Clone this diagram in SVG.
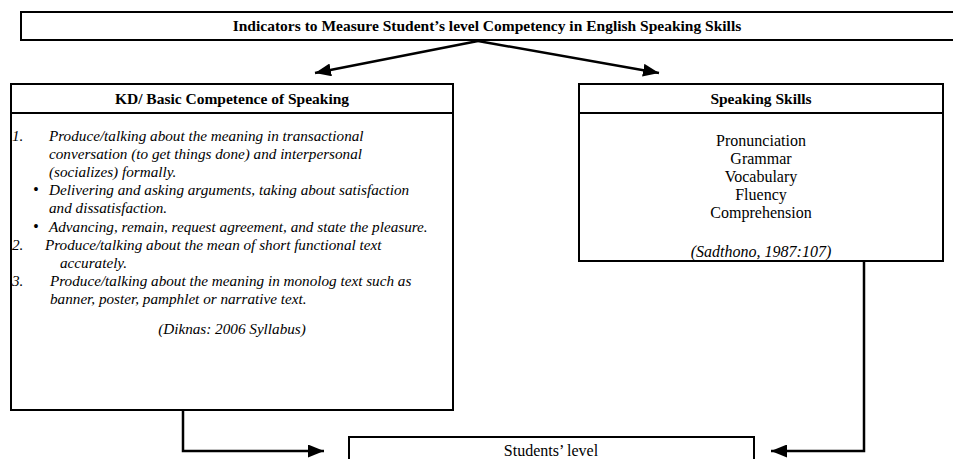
<svg xmlns="http://www.w3.org/2000/svg" width="953" height="459" viewBox="0 0 953 459">
<style>
  .box{fill:#fff;stroke:#000;stroke-width:2}
  .conn{fill:none;stroke:#000;stroke-width:2.5}
  text{font-family:"Liberation Serif","Times New Roman",serif;fill:#000;font-size:16px}
  .b{font-weight:bold;font-size:15.5px}
  .i{font-style:italic;font-size:15.2px}
  .c{text-anchor:middle}
</style>
<defs>
  <marker id="ah" markerUnits="userSpaceOnUse" markerWidth="17" markerHeight="13" refX="16" refY="6.5" orient="auto">
    <path d="M0,0 L16,6.5 L0,13 z" fill="#000"/>
  </marker>
</defs>
<rect width="953" height="459" fill="#fff"/>
<g id="connectors">
  <line class="conn" x1="478" y1="41" x2="315" y2="73" marker-end="url(#ah)"/>
  <line class="conn" x1="478" y1="41" x2="659" y2="73" marker-end="url(#ah)"/>
  <path class="conn" d="M183,411 V451 H324" marker-end="url(#ah)"/>
  <path class="conn" d="M864,262 V451 H771" marker-end="url(#ah)"/>
</g>
<g id="title">
  <rect class="box" x="21" y="12" width="940" height="28"/>
  <text class="b c" x="487" y="31">Indicators to Measure Student’s level Competency in English Speaking Skills</text>
</g>
<g id="kd">
  <rect class="box" x="11" y="84" width="442" height="326"/>
  <line x1="11" y1="113" x2="453" y2="113" stroke="#000" stroke-width="2"/>
  <text class="b c" x="232" y="104">KD/ Basic Competence of Speaking</text>
  <g class="i">
    <text class="i" x="12" y="141">1.</text>
    <text class="i" x="49" y="141">Produce/talking about the meaning in transactional</text>
    <text class="i" x="49" y="159.1">conversation (to get things done) and interpersonal</text>
    <text class="i" x="49" y="177.2">(socializes) formally.</text>
    <text x="33" y="195.3" font-size="16">•</text>
    <text class="i" x="49" y="195.3">Delivering and asking arguments, taking about satisfaction</text>
    <text class="i" x="49" y="213.4">and dissatisfaction.</text>
    <text x="33" y="231.5" font-size="16">•</text>
    <text class="i" x="49" y="231.5">Advancing, remain, request agreement, and state the pleasure.</text>
    <text class="i" x="12" y="249.6">2.</text>
    <text class="i" x="45" y="249.6">Produce/talking about the mean of short functional text</text>
    <text class="i" x="60" y="267.7">accurately.</text>
    <text class="i" x="12" y="285.8">3.</text>
    <text class="i" x="50" y="285.8">Produce/talking about the meaning in monolog text such as</text>
    <text class="i" x="50" y="303.9">banner, poster, pamphlet or narrative text.</text>
    <text class="i c" x="232" y="334">(Diknas: 2006 Syllabus)</text>
  </g>
</g>
<g id="skills">
  <rect class="box" x="579" y="84" width="364" height="177"/>
  <line x1="579" y1="113" x2="943" y2="113" stroke="#000" stroke-width="2"/>
  <text class="b c" x="761" y="104">Speaking Skills</text>
  <text class="c" x="761" y="146">Pronunciation</text>
  <text class="c" x="761" y="164">Grammar</text>
  <text class="c" x="761" y="182">Vocabulary</text>
  <text class="c" x="761" y="200">Fluency</text>
  <text class="c" x="761" y="218">Comprehension</text>
  <text class="c" x="761" y="257" font-style="italic">(Sadthono, 1987:107)</text>
</g>
<g id="students">
  <rect class="box" x="349" y="437" width="405" height="40"/>
  <text class="c" x="551" y="456">Students’ level</text>
</g>
</svg>
